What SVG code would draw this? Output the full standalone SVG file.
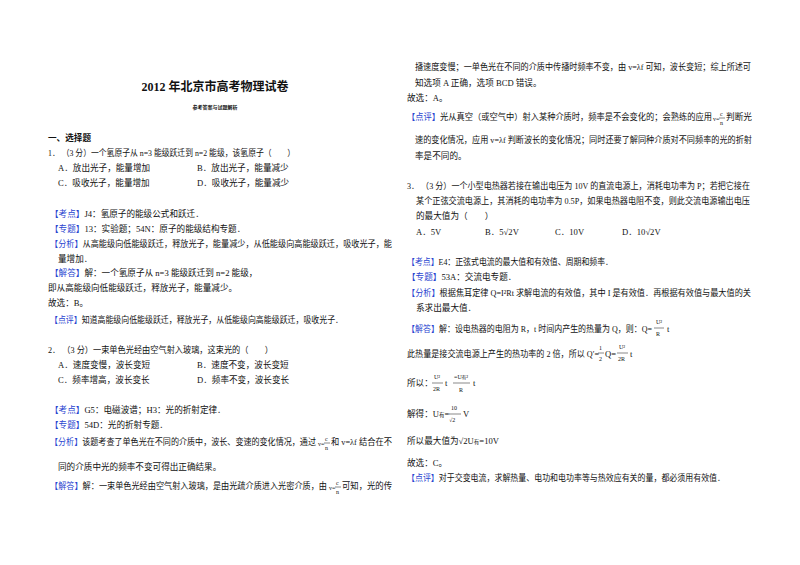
<svg xmlns="http://www.w3.org/2000/svg" width="800" height="565" viewBox="0 0 800 565">
<style>
text{font-family:"Liberation Serif","Noto Sans CJK SC",serif;font-size:8.6px;fill:#111}
.b{fill:#2a45d0}
.t{font-size:12px;font-weight:bold}
.s{font-size:5px;font-weight:bold}
.h{font-weight:bold}
.f{font-size:6px}
line{stroke:#111;stroke-width:0.5}
</style>
<rect width="800" height="565" fill="#fff"/>
<g id="left">
<text class="t" x="215" y="91" text-anchor="middle">2012 年北京市高考物理试卷</text>
<text class="s" x="215" y="109" text-anchor="middle">参考答案与试题解析</text>
<text class="h" x="48" y="141">一、选择题</text>
<text x="48" y="156" textLength="247" lengthAdjust="spacingAndGlyphs">1． （3 分）一个氢原子从 n=3 能级跃迁到 n=2 能级，该氢原子（　　）</text>
<text x="58" y="171">A．放出光子，能量增加</text><text x="197" y="171">B．放出光子，能量减少</text>
<text x="58" y="186">C．吸收光子，能量增加</text><text x="197" y="186">D．吸收光子，能量减少</text>
<text x="50" y="217"><tspan class="b">【考点】</tspan>J4：氢原子的能级公式和跃迁．</text>
<text x="50" y="232"><tspan class="b">【专题】</tspan>13：实验题；54N：原子的能级结构专题．</text>
<text x="50" y="247" textLength="342" lengthAdjust="spacingAndGlyphs"><tspan class="b">【分析】</tspan>从高能级向低能级跃迁，释放光子，能量减少，从低能级向高能级跃迁，吸收光子，能</text>
<text x="58" y="262">量增加．</text>
<text x="50" y="276"><tspan class="b">【解答】</tspan>解：一个氢原子从 n=3 能级跃迁到 n=2 能级，</text>
<text x="48" y="291">即从高能级向低能级跃迁，释放光子，能量减少。</text>
<text x="48" y="306">故选：B。</text>
<text x="50" y="323" textLength="293" lengthAdjust="spacingAndGlyphs"><tspan class="b">【点评】</tspan>知道高能级向低能级跃迁，释放光子，从低能级向高能级跃迁，吸收光子．</text>
<text x="48" y="353" textLength="225" lengthAdjust="spacingAndGlyphs">2． （3 分）一束单色光经由空气射入玻璃，这束光的（　　）</text>
<text x="58" y="368">A．速度变慢，波长变短</text><text x="197" y="368">B．速度不变，波长变短</text>
<text x="58" y="383">C．频率增高，波长变长</text><text x="197" y="383">D．频率不变，波长变长</text>
<text x="50" y="413"><tspan class="b">【考点】</tspan>G5：电磁波谱；H3：光的折射定律．</text>
<text x="50" y="428"><tspan class="b">【专题】</tspan>54D：光的折射专题．</text>
<text x="50" y="445" textLength="266" lengthAdjust="spacingAndGlyphs"><tspan class="b">【分析】</tspan>该题考查了单色光在不同的介质中，波长、变速的变化情况，通过</text>
<text class="f" x="318" y="446">v=</text><text class="f" x="325" y="441">c</text><line x1="324" y1="443" x2="330" y2="443"/><text class="f" x="325" y="450">n</text>
<text x="331" y="445" textLength="61" lengthAdjust="spacingAndGlyphs">和 v=λf 结合在不</text>
<text x="58" y="470">同的介质中光的频率不变可得出正确结果。</text>
<text x="50" y="489" textLength="277" lengthAdjust="spacingAndGlyphs"><tspan class="b">【解答】</tspan>解：一束单色光经由空气射入玻璃，是由光疏介质进入光密介质，由</text>
<text class="f" x="329" y="490">v=</text><text class="f" x="336" y="485">c</text><line x1="335" y1="487" x2="341" y2="487"/><text class="f" x="336" y="494">n</text>
<text x="342" y="489" textLength="50" lengthAdjust="spacingAndGlyphs">可知，光的传</text>
</g>
<g id="right">
<text x="415" y="70" textLength="336" lengthAdjust="spacingAndGlyphs">播速度变慢；一单色光在不同的介质中传播时频率不变，由 v=λf 可知，波长变短；综上所述可</text>
<text x="415" y="86">知选项 A 正确，选项 BCD 错误。</text>
<text x="407" y="101">故选：A。</text>
<text x="407" y="120" textLength="305" lengthAdjust="spacingAndGlyphs"><tspan class="b">【点评】</tspan>光从真空（或空气中）射入某种介质时，频率是不会变化的；会熟练的应用</text>
<text class="f" x="713" y="121">v=</text><text class="f" x="720" y="116">c</text><line x1="719" y1="118" x2="725" y2="118"/><text class="f" x="720" y="125">n</text>
<text x="726" y="120" textLength="26" lengthAdjust="spacingAndGlyphs">判断光</text>
<text x="415" y="143" textLength="337" lengthAdjust="spacingAndGlyphs">速的变化情况，应用 v=λf 判断波长的变化情况；同时还要了解同种介质对不同频率的光的折射</text>
<text x="415" y="159">率是不同的。</text>
<text x="407" y="189" textLength="343" lengthAdjust="spacingAndGlyphs">3． （3 分）一个小型电热器若接在输出电压为 10V 的直流电源上，消耗电功率为 P；若把它接在</text>
<text x="416" y="204" textLength="334" lengthAdjust="spacingAndGlyphs">某个正弦交流电源上，其消耗的电功率为 0.5P，如果电热器电阻不变，则此交流电源输出电压</text>
<text x="416" y="219">的最大值为（　　）</text>
<text x="416" y="235">A．5V</text><text x="485" y="235">B．5√2V</text><text x="555" y="235">C．10V</text><text x="622" y="235">D．10√2V</text>
<text x="407" y="265" textLength="206" lengthAdjust="spacingAndGlyphs"><tspan class="b">【考点】</tspan>E4：正弦式电流的最大值和有效值、周期和频率．</text>
<text x="407" y="280"><tspan class="b">【专题】</tspan>53A：交流电专题．</text>
<text x="407" y="296" textLength="344" lengthAdjust="spacingAndGlyphs"><tspan class="b">【分析】</tspan>根据焦耳定律 Q=I²Rt 求解电流的有效值，其中 I 是有效值．再根据有效值与最大值的关</text>
<text x="416" y="311">系求出最大值．</text>
<text x="407" y="332" textLength="245" lengthAdjust="spacingAndGlyphs"><tspan class="b">【解答】</tspan>解：设电热器的电阻为 R，t 时间内产生的热量为 Q，则：Q=</text>
<text class="f" x="656" y="324">U²</text><line x1="654" y1="328" x2="664" y2="328"/><text class="f" x="656" y="336">R</text><text x="667" y="332">t</text>
<text x="407" y="357" textLength="192" lengthAdjust="spacingAndGlyphs">此热量是接交流电源上产生的热功率的 2 倍，所以 Q′=</text>
<text class="f" x="599" y="350">1</text><line x1="598" y1="353" x2="604" y2="353"/><text class="f" x="599" y="361">2</text>
<text x="605" y="357">Q=</text>
<text class="f" x="619" y="349">U²</text><line x1="617" y1="353" x2="628" y2="353"/><text class="f" x="618" y="361">2R</text><text x="630" y="357">t</text>
<text x="407" y="386">所以：</text>
<text class="f" x="434" y="379">U²</text><line x1="432" y1="383" x2="443" y2="383"/><text class="f" x="433" y="391">2R</text><text x="445" y="386">t</text>
<text class="f" x="454" y="379">=U<tspan font-size="4.5">有</tspan>²</text><line x1="453" y1="383" x2="470" y2="383"/><text class="f" x="459" y="392">R</text><text x="473" y="386">t</text>
<text x="407" y="417">解得：U<tspan font-size="5.5">有</tspan>=</text>
<text class="f" x="451" y="410">10</text><line x1="449" y1="414" x2="461" y2="414"/><text class="f" x="449" y="422">√2</text><text x="463" y="417">V</text>
<text x="407" y="444">所以最大值为√2U<tspan font-size="5.5">有</tspan>=10V</text>
<text x="407" y="466">故选：C。</text>
<text x="407" y="481" textLength="318" lengthAdjust="spacingAndGlyphs"><tspan class="b">【点评】</tspan>对于交变电流，求解热量、电功和电功率等与热效应有关的量，都必须用有效值．</text>
</g>
</svg>
